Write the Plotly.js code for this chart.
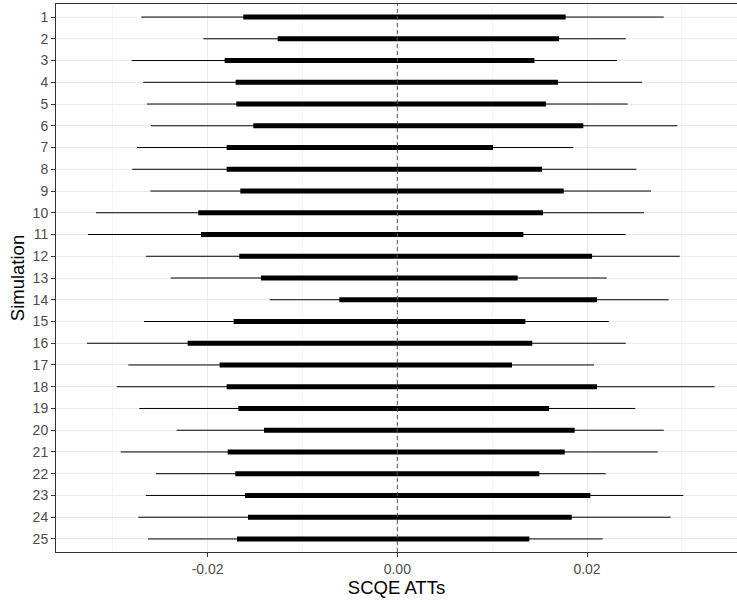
<!DOCTYPE html>
<html><head><meta charset="utf-8">
<script src="https://cdn.plot.ly/plotly-3.0.1.min.js"></script>
<style>html,body{margin:0;padding:0;background:#fff}</style>
</head><body><div id="chart" style="width:737px;height:602px"></div>
<script>
const simulations = ["1","2","3","4","5","6","7","8","9","10","11","12","13","14","15","16","17","18","19","20","21","22","23","24","25"];
const wideLow = [-0.02699,-0.02045,-0.02800,-0.02678,-0.02639,-0.02597,-0.02744,-0.02794,-0.02604,-0.03177,-0.03261,-0.02650,-0.02389,-0.01345,-0.02670,-0.03272,-0.02836,-0.02959,-0.02720,-0.02326,-0.02916,-0.02544,-0.02650,-0.02731,-0.02628];
const narrowLow = [-0.01624,-0.01261,-0.01820,-0.01704,-0.01697,-0.01518,-0.01799,-0.01799,-0.01655,-0.02098,-0.02070,-0.01666,-0.01437,-0.00611,-0.01725,-0.02210,-0.01873,-0.01799,-0.01676,-0.01405,-0.01788,-0.01708,-0.01606,-0.01574,-0.01690];
const narrowHigh = [0.01775,0.01705,0.01445,0.01694,0.01568,0.01961,0.01009,0.01526,0.01754,0.01536,0.01329,0.02053,0.01269,0.02105,0.01350,0.01423,0.01209,0.02105,0.01600,0.01870,0.01765,0.01497,0.02035,0.01839,0.01392];
const wideHigh = [0.02809,0.02408,0.02313,0.02580,0.02429,0.02952,0.01856,0.02520,0.02675,0.02601,0.02408,0.02977,0.02208,0.02861,0.02229,0.02408,0.02074,0.03346,0.02509,0.02809,0.02745,0.02197,0.03015,0.02882,0.02166];
const xTickVals = [-0.02, 0, 0.02];
const xTickText = ["-0.02", "0.00", "0.02"];

function segments(lo, hi) {
  const xs = [], ys = [];
  simulations.forEach((s, i) => {
    xs.push(lo[i], hi[i], null);
    ys.push(s, s, null);
  });
  return {xs, ys};
}
const wide = segments(wideLow, wideHigh);
const narrow = segments(narrowLow, narrowHigh);

const traces = [
  {type: 'scatter', mode: 'lines', x: wide.xs, y: wide.ys, line: {color: '#000', width: 1}, hoverinfo: 'skip', showlegend: false},
  {type: 'scatter', mode: 'lines', x: narrow.xs, y: narrow.ys, line: {color: '#000', width: 5}, hoverinfo: 'skip', showlegend: false}
];

const font = 'Liberation Sans, Arial, sans-serif';
const layout = {
  width: 737, height: 602,
  margin: {l: 56, r: 0, t: 4, b: 50},
  paper_bgcolor: '#fff', plot_bgcolor: '#fff',
  showlegend: false,
  xaxis: {
    range: [-0.03598, 0.03581],
    tickvals: xTickVals, ticktext: xTickText,
    showgrid: true, gridcolor: '#ebebeb', gridwidth: 1,
    minor: {dtick: 0.01, tick0: 0, showgrid: true, gridcolor: '#f0f0f0', gridwidth: 0.7, ticks: ''},
    zeroline: false,
    showline: true, mirror: true, linecolor: '#333', linewidth: 1,
    ticks: 'outside', ticklen: 4, tickcolor: '#333', tickwidth: 1,
    tickfont: {family: font, size: 14, color: '#4d4d4d'},
    title: {text: 'SCQE ATTs', font: {family: font, size: 18.5, color: '#000'}, standoff: 5},
    automargin: false
  },
  yaxis: {
    type: 'category',
    categoryorder: 'array', categoryarray: simulations,
    range: [24.6, -0.6],
    showgrid: true, gridcolor: '#ebebeb', gridwidth: 1,
    zeroline: false,
    showline: true, mirror: false, linecolor: '#333', linewidth: 1,
    ticks: 'outside', ticklen: 4, tickcolor: '#333', tickwidth: 1,
    tickfont: {family: font, size: 14, color: '#4d4d4d'},
    title: {text: 'Simulation', font: {family: font, size: 18.5, color: '#000'}, standoff: 3},
    automargin: false
  },
  shapes: [
    {type: 'line', layer: 'above', xref: 'x', yref: 'paper', x0: 0, x1: 0, y0: 0, y1: 1,
     line: {color: '#555', width: 1, dash: '4px,3px'}}
  ]
};

Plotly.newPlot('chart', traces, layout, {displayModeBar: false, staticPlot: true});
</script>
</body></html>
